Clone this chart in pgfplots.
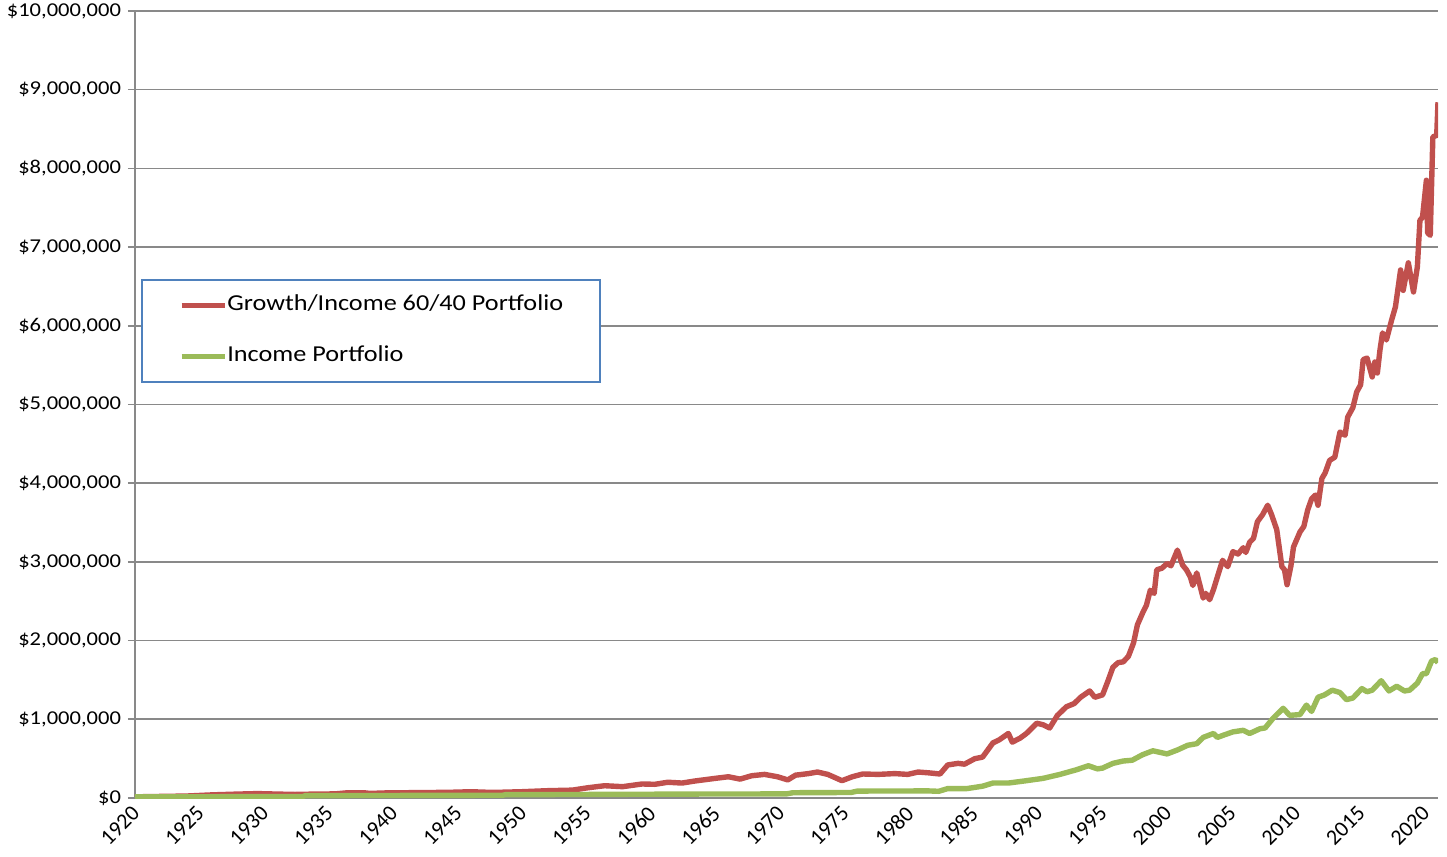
\documentclass[border=0pt]{standalone}
\usepackage{pgfplots}
\pgfplotsset{compat=1.18}
\usepackage{fontspec}
\setmainfont{Carlito}[FakeStretch=1.15]
\newfontfamily\tickfont{Carlito}
\definecolor{growthred}{HTML}{C0504D}
\definecolor{incomegreen}{HTML}{9BBB59}
\definecolor{legendblue}{HTML}{4F81BD}
\definecolor{gridgray}{HTML}{898989}

\begin{document}
\begin{tikzpicture}
\begin{axis}[
  scale only axis,
  width=651.5pt, height=393.5pt,
  xmin=1920, xmax=2021, ymin=0, ymax=10,
  axis lines*=left,
  every non boxed x axis/.append style={x axis line style=-},
  every non boxed y axis/.append style={y axis line style=-},
  axis line style={gridgray, line width=0.8pt},
  ymajorgrids, grid style={gridgray, line width=0.8pt},
  xtick={1920,1925,...,2020},
  ytick={0,1,...,10},
  yticklabels={{\$0},{\$1,000,000},{\$2,000,000},{\$3,000,000},{\$4,000,000},{\$5,000,000},{\$6,000,000},{\$7,000,000},{\$8,000,000},{\$9,000,000},{\$10,000,000}},
  tick align=outside, major tick length=3.5pt,
  xtick style={draw=none},
  ytick style={gridgray, line width=0.8pt},
  xticklabel style={rotate=45, anchor=east, xshift=2pt, yshift=-2pt,
    font=\tickfont\fontsize{11}{13}\selectfont,
    /pgf/number format/1000 sep={}, /pgf/number format/assume math mode=true},
  yticklabel style={font=\fontsize{9.8}{11}\selectfont},
  legend cell align=left,
  legend image code/.code={\draw[#1] (0pt,0pt) -- (21.5pt,0pt);},
  legend style={at={(rel axis cs:0.0046,0.6595)}, anchor=north west,
    draw=legendblue, line width=0.9pt,
    font=\fontsize{11.4}{13}\selectfont,
    nodes={inner xsep=0pt, inner ysep=0pt, text height=8pt, text depth=2.5pt},
    row sep=15pt, inner xsep=18.5pt, inner ysep=7.5pt,
    /tikz/every even column/.append style={column sep=2.5pt}},
]
% Growth/Income 60/40 portfolio, millions of dollars
\addplot[growthred, line width=2.7pt, line join=round] coordinates {
(1920.0,0.015)(1922,0.02)(1924,0.025)(1926,0.04)(1928,0.05)(1929.5,0.056)(1931,0.05)
(1932.4,0.045)(1934,0.05)(1935.5,0.052)(1936.5,0.067)(1937.8,0.066)(1938.2,0.058)
(1939.5,0.065)(1941.7,0.068)(1944.3,0.072)(1946.1,0.08)(1947,0.074)(1948.1,0.072)
(1950,0.08)(1952,0.093)(1953.9,0.10)(1955.1,0.13)(1956.4,0.156)(1957.8,0.144)
(1959.3,0.178)(1960.3,0.174)(1961.3,0.20)(1962.4,0.19)(1963.4,0.216)(1965,0.25)
(1966,0.27)(1966.9,0.24)(1967.8,0.283)(1968.8,0.30)(1969.8,0.27)(1970.6,0.23)
(1971.2,0.29)(1972.2,0.31)(1972.9,0.33)(1973.7,0.30)(1974.8,0.22)(1975.6,0.27)
(1976.4,0.305)(1977.6,0.30)(1978.9,0.31)(1979.9,0.30)(1980.7,0.33)(1981.5,0.32)
(1982.4,0.305)(1983.0,0.42)(1983.8,0.44)(1984.3,0.43)(1985.1,0.50)(1985.7,0.52)
(1986.5,0.70)(1987.0,0.74)(1987.7,0.82)(1988.0,0.71)(1988.6,0.76)(1989.1,0.82)
(1989.9,0.95)(1990.4,0.93)(1990.9,0.89)(1991.5,1.05)(1992.2,1.16)(1992.8,1.20)
(1993.3,1.28)(1994.0,1.36)(1994.4,1.28)(1995.0,1.31)(1995.4,1.48)(1995.8,1.66)
(1996.2,1.72)(1996.6,1.73)(1997.0,1.80)(1997.4,1.97)(1997.7,2.20)(1998.1,2.35)
(1998.4,2.45)(1998.7,2.64)(1999.0,2.60)(1999.2,2.90)(1999.6,2.92)(2000.0,2.98)
(2000.3,2.95)(2000.8,3.15)(2001.2,2.96)(2001.5,2.90)(2001.8,2.81)(2002.0,2.70)
(2002.3,2.86)(2002.8,2.54)(2003.0,2.60)(2003.3,2.52)(2003.6,2.65)(2003.9,2.81)
(2004.3,3.02)(2004.7,2.94)(2005.1,3.13)(2005.5,3.10)(2005.9,3.18)(2006.1,3.12)
(2006.4,3.25)(2006.7,3.30)(2007.0,3.51)(2007.4,3.60)(2007.8,3.72)(2008.1,3.60)
(2008.5,3.41)(2008.9,2.94)(2009.1,2.90)(2009.3,2.71)(2009.6,2.95)(2009.8,3.19)
(2010.3,3.38)(2010.6,3.45)(2010.9,3.66)(2011.2,3.80)(2011.5,3.85)(2011.7,3.72)
(2012.0,4.06)(2012.25,4.13)(2012.6,4.29)(2013.0,4.33)(2013.4,4.65)(2013.8,4.61)
(2014.0,4.84)(2014.4,4.96)(2014.7,5.16)(2015.0,5.25)(2015.2,5.57)(2015.5,5.59)
(2015.9,5.35)(2016.1,5.54)(2016.3,5.40)(2016.5,5.69)(2016.7,5.91)(2017.0,5.82)
(2017.4,6.07)(2017.7,6.24)(2018.1,6.71)(2018.3,6.45)(2018.7,6.80)(2019.1,6.43)
(2019.4,6.75)(2019.6,7.34)(2019.8,7.38)(2020.1,7.85)(2020.2,7.18)(2020.4,7.15)
(2020.6,8.40)(2020.9,8.42)(2021.0,8.84)
};
\addlegendentry{Growth/Income 60/40 Portfolio}
% Income portfolio, millions of dollars
\addplot[incomegreen, line width=2.7pt, line join=round] coordinates {
(1920,0.015)(1933,0.018)(1933.2,0.03)(1948.5,0.035)(1948.7,0.042)(1955,0.045)
(1963,0.05)(1970.5,0.052)(1971,0.067)(1975.5,0.07)(1976,0.088)(1981.5,0.09)
(1982.3,0.085)(1983.0,0.12)(1984.5,0.12)(1985.7,0.15)(1986.5,0.19)(1987.7,0.19)
(1989.1,0.22)(1990.4,0.25)(1991.7,0.30)(1993.0,0.36)(1993.9,0.41)(1994.6,0.37)
(1995.0,0.38)(1995.8,0.44)(1996.6,0.47)(1997.3,0.48)(1998.1,0.55)(1998.9,0.60)
(2000.0,0.56)(2000.8,0.61)(2001.6,0.67)(2002.3,0.69)(2002.8,0.77)(2003.6,0.82)
(2003.9,0.77)(2004.4,0.80)(2005.1,0.84)(2005.9,0.86)(2006.4,0.82)(2007.2,0.88)
(2007.6,0.89)(2008.2,1.01)(2009.0,1.14)(2009.5,1.05)(2010.3,1.06)(2010.8,1.18)
(2011.2,1.10)(2011.7,1.28)(2012.2,1.31)(2012.8,1.37)(2013.4,1.34)(2013.9,1.25)
(2014.4,1.27)(2015.1,1.39)(2015.5,1.35)(2015.9,1.37)(2016.6,1.49)(2017.2,1.36)
(2017.8,1.42)(2018.4,1.36)(2018.8,1.37)(2019.4,1.46)(2019.8,1.58)(2020.1,1.58)
(2020.5,1.74)(2020.8,1.76)(2021.0,1.72)
};
\addlegendentry{Income Portfolio}
\end{axis}
\pgfresetboundingbox
\path[use as bounding box] ([shift={(-67.5pt,-29.5pt)}]current axis.south west)
  rectangle ([shift={(4.5pt,5.5pt)}]current axis.north east);
\end{tikzpicture}
\end{document}
